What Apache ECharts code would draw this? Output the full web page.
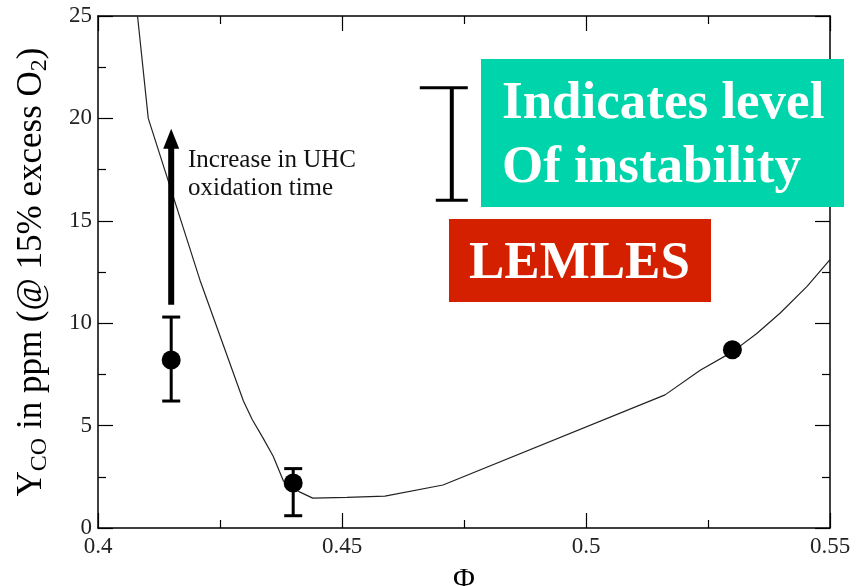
<!DOCTYPE html>
<html>
<head>
<meta charset="utf-8">
<script src="https://cdn.jsdelivr.net/npm/echarts@6/dist/echarts.min.js"></script>
<style>html,body{margin:0;padding:0;background:#fff}#c{width:860px;height:586px}</style>
</head>
<body>
<div id="c"></div>
<script>
// ---- data ----
const curvePhi = [0.4081, 0.4103, 0.4209, 0.4298, 0.4316, 0.4338, 0.4359, 0.4380, 0.4414, 0.4440, 0.4510, 0.4588, 0.4707, 0.5162, 0.5234, 0.5300, 0.5350, 0.5398, 0.5453, 0.5500];
const curveY   = [25.0,   20.0,   12.1,   6.2,    5.3,    4.4,    3.5,    2.3,    1.75,   1.46,   1.5,    1.56,   2.1,    6.5,    7.7,    8.6,    9.5,    10.5,   11.8,   13.1];
const pointPhi = [0.415, 0.44, 0.53];
const pointY   = [8.2, 2.2, 8.7];
const errLow   = [6.2, 0.6, null];
const errHigh  = [10.3, 2.9, null];
const arrowPhi = [0.415];
const arrowFrom = [10.9];
const arrowTo   = [19.5];
const barPhi  = [0.4725];
const barLow  = [16.0];
const barHigh = [21.5];
const xTicks = [0.4, 0.45, 0.5, 0.55];
const yTicks = [0, 5, 10, 15, 20, 25];

const SERIF = '"Liberation Serif", "DejaVu Serif", serif';
const chart = echarts.init(document.getElementById('c'));

const axisCommon = {
  axisLine: {show: true, onZero: false, lineStyle: {color: '#000', width: 1.5}},
  axisTick: {show: true, inside: true, length: 15, lineStyle: {color: '#000', width: 1.2}},
  minorTick: {show: true, splitNumber: 2, length: 8, lineStyle: {color: '#000', width: 1.2}},
  splitLine: {show: false},
  minorSplitLine: {show: false}
};

const option = {
  animation: false,
  backgroundColor: '#fff',
  grid: {left: 98, right: 30, top: 16, bottom: 58, containLabel: false, outerBoundsMode: 'none'},
  xAxis: [
    Object.assign({
      type: 'value', min: xTicks[0], max: xTicks[xTicks.length - 1], interval: 0.05, position: 'bottom',
      name: 'Φ', nameLocation: 'middle', nameGap: 37,
      nameTextStyle: {fontFamily: SERIF, fontSize: 30, color: '#000'},
      axisLabel: {fontFamily: SERIF, fontSize: 23, color: '#222', margin: 7}
    }, axisCommon),
    Object.assign({
      type: 'value', min: xTicks[0], max: xTicks[xTicks.length - 1], interval: 0.05, position: 'top',
      axisLabel: {show: false}
    }, axisCommon)
  ],
  yAxis: [
    Object.assign({
      type: 'value', min: yTicks[0], max: yTicks[yTicks.length - 1], interval: 5, position: 'left',
      name: '{m|Y}{s|CO}{m| in ppm (@ 15% excess O}{s|2}{m|)}',
      nameLocation: 'middle', nameGap: 46, nameRotate: 90,
      nameTextStyle: {
        fontFamily: SERIF, color: '#000',
        rich: {
          m: {fontFamily: SERIF, fontSize: 35, lineHeight: 40, color: '#000'},
          s: {fontFamily: SERIF, fontSize: 24, lineHeight: 14, verticalAlign: 'bottom', color: '#000'}
        }
      },
      axisLabel: {fontFamily: SERIF, fontSize: 23, color: '#222', margin: 6}
    }, axisCommon),
    Object.assign({
      type: 'value', min: yTicks[0], max: yTicks[yTicks.length - 1], interval: 5, position: 'right',
      axisLabel: {show: false}
    }, axisCommon)
  ],
  series: [
    {
      type: 'line', xAxisIndex: 0, yAxisIndex: 0,
      data: curvePhi.map((p, i) => [p, curveY[i]]),
      showSymbol: false, symbol: 'none', clip: true,
      lineStyle: {color: '#222', width: 1.2}, z: 2
    },
    {
      type: 'custom', xAxisIndex: 0, yAxisIndex: 0, z: 3,
      data: pointPhi.map((p, i) => [p, errLow[i], errHigh[i]]).filter(d => d[1] != null),
      renderItem: function (params, api) {
        const x = api.value(0);
        const lo = api.coord([x, api.value(1)]);
        const hi = api.coord([x, api.value(2)]);
        const w = 9;
        const st = {stroke: '#000', lineWidth: 3};
        return {type: 'group', children: [
          {type: 'line', shape: {x1: lo[0], y1: lo[1], x2: hi[0], y2: hi[1]}, style: st},
          {type: 'line', shape: {x1: lo[0] - w, y1: lo[1], x2: lo[0] + w, y2: lo[1]}, style: st},
          {type: 'line', shape: {x1: hi[0] - w, y1: hi[1], x2: hi[0] + w, y2: hi[1]}, style: st}
        ]};
      }
    },
    {
      type: 'scatter', xAxisIndex: 0, yAxisIndex: 0, z: 4,
      data: pointPhi.map((p, i) => [p, pointY[i]]),
      symbol: 'circle', symbolSize: 19,
      itemStyle: {color: '#000', opacity: 1}
    },
    {
      type: 'custom', xAxisIndex: 0, yAxisIndex: 0, z: 4,
      data: arrowPhi.map((p, i) => [p, arrowFrom[i], arrowTo[i]]),
      renderItem: function (params, api) {
        const x = api.value(0);
        const a = api.coord([x, api.value(1)]);
        const b = api.coord([x, api.value(2)]);
        const hh = 20, hw = 8;
        return {type: 'group', children: [
          {type: 'line', shape: {x1: a[0], y1: a[1], x2: b[0], y2: b[1] + hh - 2}, style: {stroke: '#000', lineWidth: 6}},
          {type: 'polygon', shape: {points: [[b[0], b[1]], [b[0] - hw, b[1] + hh], [b[0] + hw, b[1] + hh]]}, style: {fill: '#000'}}
        ]};
      }
    },
    {
      type: 'custom', xAxisIndex: 0, yAxisIndex: 0, z: 4,
      data: barPhi.map((p, i) => [p, barLow[i], barHigh[i]]),
      renderItem: function (params, api) {
        const x = api.value(0);
        const lo = api.coord([x, api.value(1)]);
        const hi = api.coord([x, api.value(2)]);
        return {type: 'group', children: [
          {type: 'line', shape: {x1: lo[0], y1: lo[1], x2: hi[0], y2: hi[1]}, style: {stroke: '#000', lineWidth: 4}},
          {type: 'line', shape: {x1: hi[0] - 32, y1: hi[1], x2: hi[0] + 16, y2: hi[1]}, style: {stroke: '#000', lineWidth: 3}},
          {type: 'line', shape: {x1: lo[0] - 16, y1: lo[1], x2: lo[0] + 16, y2: lo[1]}, style: {stroke: '#000', lineWidth: 3}}
        ]};
      }
    }
  ],
  graphic: [
    {type: 'text', left: 188, top: 148, z: 10,
      style: {text: 'Increase in UHC', font: '25px ' + SERIF, fill: '#111'}},
    {type: 'text', left: 188, top: 176, z: 10,
      style: {text: 'oxidation time', font: '25px ' + SERIF, fill: '#111'}},
    {type: 'rect', left: 481, top: 59, z: 10, shape: {width: 363, height: 148}, style: {fill: '#00d4ab'}},
    {type: 'text', x: 502, y: 104, z: 11,
      style: {text: 'Indicates level', font: 'bold 53px ' + SERIF, fill: '#fff', verticalAlign: 'middle', align: 'left'}},
    {type: 'text', x: 502, y: 168, z: 11,
      style: {text: 'Of instability', font: 'bold 53px ' + SERIF, fill: '#fff', verticalAlign: 'middle', align: 'left'}},
    {type: 'rect', left: 449, top: 219, z: 10, shape: {width: 262, height: 83}, style: {fill: '#d52000'}},
    {type: 'text', x: 469, y: 264, z: 11,
      style: {text: 'LEMLES', font: 'bold 53px ' + SERIF, fill: '#fff', verticalAlign: 'middle', align: 'left'}}
  ]
};
chart.setOption(option);
</script>
</body>
</html>
